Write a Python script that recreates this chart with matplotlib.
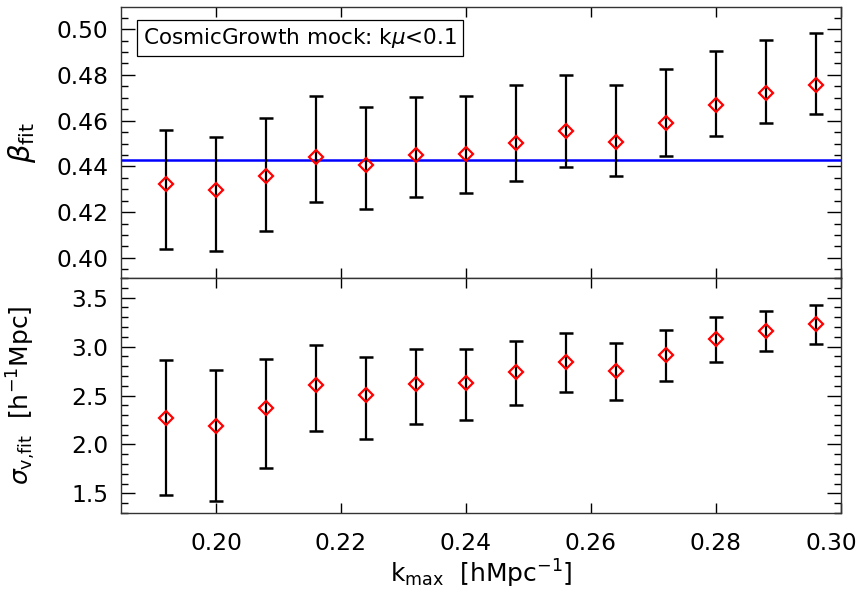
import numpy as np
import matplotlib
matplotlib.use("Agg")
import matplotlib.pyplot as plt
import matplotlib.transforms as mtransforms
from matplotlib.ticker import MultipleLocator, FormatStrFormatter

# k_max values
k_max = [0.192, 0.200, 0.208, 0.216, 0.224, 0.232, 0.240,
         0.248, 0.256, 0.264, 0.272, 0.280, 0.288, 0.296]
x_ticks = [0.20, 0.22, 0.24, 0.26, 0.28, 0.30]

# beta_fit: best fit, upper and lower ends of the error bars
beta = [0.4323, 0.4297, 0.4358, 0.4443, 0.4404, 0.4448, 0.4453,
        0.4503, 0.4554, 0.4507, 0.4589, 0.4669, 0.4719, 0.4754]
beta_hi = [0.4558, 0.4529, 0.4613, 0.4709, 0.4658, 0.4705, 0.4709,
           0.4754, 0.4799, 0.4754, 0.4826, 0.4904, 0.4951, 0.4985]
beta_lo = [0.4038, 0.4028, 0.4118, 0.4243, 0.4212, 0.4267, 0.4283,
           0.4337, 0.4398, 0.4358, 0.4445, 0.4535, 0.4589, 0.4628]
beta_ref = 0.4426

# sigma_v,fit [h^-1 Mpc]
sigma = [2.271, 2.190, 2.369, 2.603, 2.501, 2.613, 2.627,
         2.745, 2.847, 2.752, 2.918, 3.073, 3.161, 3.229]
sigma_hi = [2.864, 2.765, 2.874, 3.016, 2.894, 2.975, 2.975,
            3.060, 3.134, 3.040, 3.165, 3.297, 3.365, 3.426]
sigma_lo = [1.482, 1.418, 1.757, 2.139, 2.058, 2.207, 2.247,
            2.403, 2.539, 2.454, 2.650, 2.840, 2.955, 3.029]

plt.rcParams['font.family'] = ['DejaVu Sans']
plt.rcParams['mathtext.fontset'] = 'dejavusans'

fig = plt.figure(figsize=(8.62, 5.92), dpi=100)
ax1 = fig.add_axes([0.1404, 0.5304, 0.8352, 0.4578])
ax2 = fig.add_axes([0.1404, 0.1334, 0.8352, 0.3970], sharex=ax1)


def panel(ax, y, hi, lo):
    y = np.array(y)
    err = [y - np.array(lo), np.array(hi) - y]
    ax.errorbar(k_max, y, yerr=err, fmt='none', ecolor='black',
                elinewidth=1.6, capsize=5, capthick=1.8, zorder=3)
    ax.plot(k_max, y, 'D', mfc='none', mec='red', mew=1.6, ms=7, zorder=4)
    ax.tick_params(axis='both', which='both', direction='in',
                   top=True, right=True, labelsize=16.8, width=1)
    ax.tick_params(axis='y', which='major', length=10, pad=9)
    ax.tick_params(axis='y', which='minor', length=5)
    ax.tick_params(axis='x', which='major', length=7, pad=14)
    ax.tick_params(axis='x', which='minor', length=0)
    for s in ax.spines.values():
        s.set_linewidth(1.0)
        s.set_color('#333333')


panel(ax1, beta, beta_hi, beta_lo)
ax1.axhline(beta_ref, color='blue', lw=1.8, zorder=2)
ax1.set_ylim(0.3912, 0.5097)
ax1.yaxis.set_major_locator(MultipleLocator(0.02))
ax1.yaxis.set_minor_locator(MultipleLocator(0.005))
ax1.yaxis.set_major_formatter(FormatStrFormatter('%.2f'))
ax1.tick_params(axis='x', labelbottom=False)
ax1.set_ylabel(r'$\beta_{\rm fit}$', fontsize=21)
ax1.yaxis.set_label_coords(-0.115, 0.5)
ax1.text(0.03, 0.885, r'CosmicGrowth mock: k$\mu$<0.1', transform=ax1.transAxes,
         fontsize=15.5, va='center', ha='left',
         bbox=dict(boxstyle='square,pad=0.28', fc='white', ec='black', lw=0.9))

panel(ax2, sigma, sigma_hi, sigma_lo)
ax2.set_ylim(1.3, 3.7)
ax2.set_xlim(0.1848, 0.300)
ax2.yaxis.set_major_locator(MultipleLocator(0.5))
ax2.yaxis.set_minor_locator(MultipleLocator(0.1))
ax2.set_xticks(x_ticks)
ax2.set_xticklabels(['%.2f' % v for v in x_ticks])
ax2.set_ylabel(r'$\sigma_{\rm v{,}fit}$  [h$^{-1}$Mpc]', fontsize=18)
ax2.yaxis.set_label_coords(-0.115, 0.5)
ax2.set_xlabel(r'k$_{\rm max}$  [hMpc$^{-1}$]', fontsize=18, labelpad=2)

# keep the last tick label inside the figure
shift = mtransforms.ScaledTranslation(-10 / 100, 0, fig.dpi_scale_trans)
last = ax2.get_xticklabels()[-1]
last.set_transform(last.get_transform() + shift)

fig.savefig('out.png', dpi=100)
